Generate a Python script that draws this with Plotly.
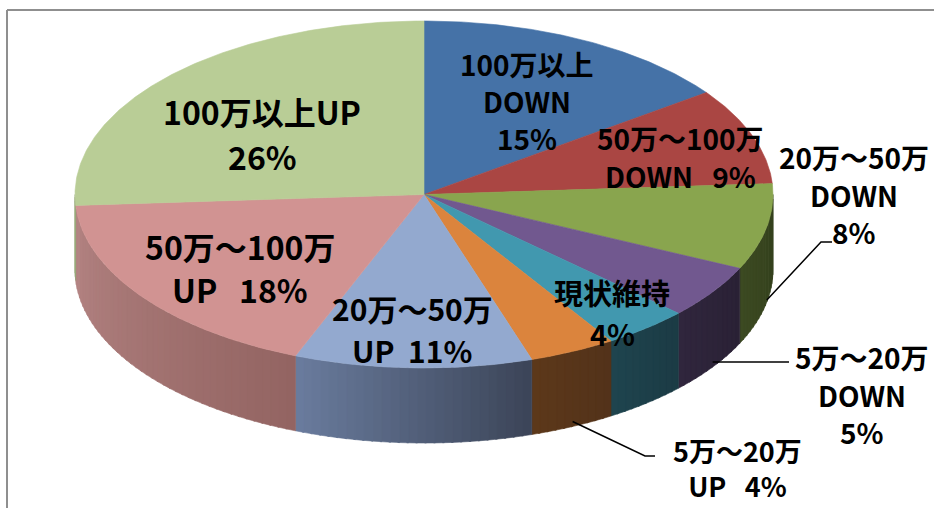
import numpy as np
import plotly.graph_objects as go

# ---------------- data ----------------
categories = ["100万以上DOWN", "50万～100万DOWN", "20万～50万DOWN", "5万～20万DOWN",
              "現状維持", "5万～20万UP", "20万～50万UP", "50万～100万UP", "100万以上UP"]
shares = [15, 9, 8, 5, 4, 4, 11, 18, 26]
label_head = ["100万以上", "50万～100万", "20万～50万", "5万～20万",
              "現状維持", "5万～20万", "20万～50万", "50万～100万", "100万以上UP"]
label_tail = ["DOWN", "DOWN", "DOWN", "DOWN", "", "UP", "UP", "UP", ""]

# ---------------- styles ----------------
top_colors = ["#4572A7", "#AA4643", "#89A54E", "#71588F", "#4198AF",
              "#DB843D", "#93A9CF", "#D19392", "#B9CD96"]
side_light = ["#34567E", "#803432", "#3C4A22", "#30263D", "#1F444E",
              "#5C381A", "#6A7C9E", "#B48483", "#9DB07E"]
side_dark = ["#2A4566", "#682A28", "#333F1C", "#2A2135", "#1B3B44",
             "#52321A", "#3B4457", "#936462", "#8C9E70"]
FONT = "Noto Sans CJK JP"

# label layout: centre x, line y positions, font size, drawn as one block?
label_x = [527, 680, 854, 862, 612, 737, 412, 240, 262]
label_ys = [[64, 101, 138], [138, 176], [157, 195, 232], [357, 395, 432],
            [292, 333], [450, 485], [308, 350], [246, 289], [111, 156]]
label_size = [28, 28, 28, 28, 29, 27, 30, 32, 32]
label_block = [False, False, False, False, False, True, False, False, False]

# pie geometry (pixel space)
CX, CY, RX, RY, DEPTH = 424, 194.5, 349, 173.5, 75


def pt(theta_deg, dy=0.0):
    t = np.radians(theta_deg)
    return CX + RX * np.sin(t), CY - RY * np.cos(t) + dy


def mix(c1, c2, f):
    a = [int(c1[i:i + 2], 16) for i in (1, 3, 5)]
    b = [int(c2[i:i + 2], 16) for i in (1, 3, 5)]
    return "rgb(%d,%d,%d)" % tuple(round(a[k] + (b[k] - a[k]) * f) for k in range(3))


fig = go.Figure()

cum = np.concatenate([[0], np.cumsum(shares)]) / sum(shares) * 360.0

# sides (front half only)
for i in range(len(shares)):
    lo, hi = max(cum[i], 90.0), min(cum[i + 1], 270.0)
    if hi <= lo:
        continue
    n = max(1, int(np.ceil((hi - lo) / 1.5)))
    edges = np.linspace(lo, hi, n + 1)
    for k in range(n):
        t0, t1 = edges[k], edges[k + 1] + (0.3 if k < n - 1 else 0)
        ts = np.linspace(t0, t1, 4)
        xt, yt = pt(ts)
        xb, yb = pt(ts[::-1], DEPTH)
        f = ((t0 + t1) / 2 - lo) / (hi - lo)
        col = mix(side_dark[i], side_light[i], f)
        fig.add_trace(go.Scatter(
            x=np.concatenate([xt, xb, xt[:1]]), y=np.concatenate([yt, yb, yt[:1]]),
            mode="lines", fill="toself", fillcolor=col,
            line=dict(color=col, width=0.6), hoverinfo="skip", showlegend=False))

# top faces
for i in range(len(shares)):
    ts = np.linspace(cum[i], cum[i + 1], max(3, int((cum[i + 1] - cum[i]) * 2)))
    xa, ya = pt(ts)
    fig.add_trace(go.Scatter(
        x=np.concatenate([[CX], xa, [CX]]), y=np.concatenate([[CY], ya, [CY]]),
        mode="lines", fill="toself", fillcolor=top_colors[i],
        line=dict(color=top_colors[i], width=0.6),
        name=categories[i], text=f"{categories[i]} {shares[i]}%", hoverinfo="text",
        showlegend=False))

# labels
annotations = []
for i in range(len(shares)):
    pct = f"{shares[i]}%"
    if len(label_ys[i]) == 3:
        lines = [label_head[i], label_tail[i], pct]
    elif label_tail[i]:
        gap = "\u00a0\u00a0" if i == 6 else "\u00a0\u00a0\u00a0"
        lines = [label_head[i], label_tail[i] + gap + pct]
    else:
        lines = [label_head[i], pct]
    font = dict(family=FONT, size=label_size[i], color="black")
    if label_block[i]:
        annotations.append(dict(
            x=label_x[i], y=sum(label_ys[i]) / len(label_ys[i]), xref="x", yref="y",
            text="<br>".join(f"<b>{s}</b>" for s in lines),
            showarrow=False, xanchor="center", yanchor="middle", align="center",
            font=font))
        continue
    for line, yy in zip(lines, label_ys[i]):
        annotations.append(dict(
            x=label_x[i], y=yy, xref="x", yref="y", text=f"<b>{line}</b>",
            showarrow=False, xanchor="center", yanchor="middle", font=font))

# leader lines for outside labels (start at side bottom, mid-angle)
leaders = {2: [(821, 242), (832, 242)], 3: [(789, None)], 5: [(645, 456), (655, 456)]}
for i, pts in leaders.items():
    mid = (cum[i] + cum[i + 1]) / 2
    sx, sy = pt(mid, DEPTH - (2 if i == 2 else 5))
    xs, ys = [sx], [sy]
    for px, py in pts:
        xs.append(px)
        ys.append(sy if py is None else py)
    fig.add_trace(go.Scatter(x=xs, y=ys, mode="lines",
                             line=dict(color="black", width=1.5),
                             hoverinfo="skip", showlegend=False))

fig.update_layout(
    width=934, height=508,
    margin=dict(l=0, r=0, t=0, b=0),
    paper_bgcolor="white", plot_bgcolor="white",
    xaxis=dict(range=[0, 934], visible=False, fixedrange=True),
    yaxis=dict(range=[508, 0], visible=False, fixedrange=True),
    annotations=annotations,
    shapes=[dict(type="line", xref="x", yref="y", x0=7, y0=10, x1=934, y1=10,
                 line=dict(color="#8F8F8F", width=2)),
            dict(type="line", xref="x", yref="y", x0=7, y0=10, x1=7, y1=508,
                 line=dict(color="#8F8F8F", width=2))],
)

fig.write_html("out.html",
               config={"displayModeBar": False},
               post_script="document.body.style.margin='0';"
                           "document.body.style.overflow='hidden';")
